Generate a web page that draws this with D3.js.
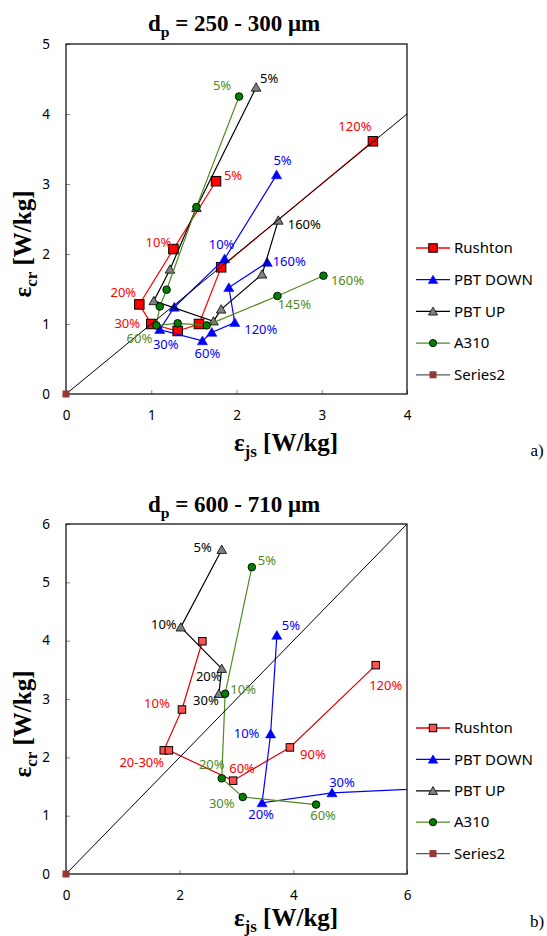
<!DOCTYPE html>
<html>
<head>
<meta charset="utf-8">
<script src="https://cdn.jsdelivr.net/npm/d3@7"></script>
<style>
  body { margin: 0; background: #fff; }
  text { font-family: "Noto Sans", "Open Sans", sans-serif; }
  .serif { font-family: "Liberation Serif", "DejaVu Serif", serif; font-weight: bold; }
</style>
</head>
<body>
<div id="chart"></div>
<script>
// ---------- data: panel a) dp = 250 - 300 um ----------
const A_X_TICKS = [0, 1, 2, 3, 4];
const A_Y_TICKS = [0, 1, 2, 3, 4, 5];

const A_RUSHTON_X = [1.76, 1.26, 0.86, 1.00, 1.31, 1.56, 1.82, 3.60];
const A_RUSHTON_Y = [3.04, 2.07, 1.28, 1.00, 0.90, 1.00, 1.81, 3.61];
const A_RUSHTON_LBL = ["5%", "10%", "20%", "30%", "", "", "", "120%"];

const A_PBTD_X = [2.47, 1.86, 1.27, 1.10, 1.60, 1.71, 1.98, 1.91, 2.36];
const A_PBTD_Y = [3.13, 1.93, 1.24, 0.92, 0.76, 0.88, 1.02, 1.52, 1.88];
const A_PBTD_LBL = ["5%", "10%", "", "30%", "60%", "", "120%", "", "160%"];

const A_PBTU_X = [2.23, 1.53, 1.22, 1.03, 1.73, 1.82, 2.30, 2.49];
const A_PBTU_Y = [4.38, 2.66, 1.78, 1.33, 1.04, 1.21, 1.71, 2.48];
const A_PBTU_LBL = ["5%", "", "", "", "", "", "", "160%"];

const A_A310_X = [2.03, 1.53, 1.18, 1.10, 1.06, 1.31, 1.65, 2.48, 3.02];
const A_A310_Y = [4.25, 2.67, 1.49, 1.25, 0.98, 1.01, 0.98, 1.40, 1.69];
const A_A310_LBL = ["5%", "", "", "", "60%", "", "", "145%", "160%"];

const A_SERIES2_X = [0];
const A_SERIES2_Y = [0];
const A_DIAG = [0, 4];

// ---------- data: panel b) dp = 600 - 710 um ----------
const B_X_TICKS = [0, 2, 4, 6];
const B_Y_TICKS = [0, 1, 2, 3, 4, 5, 6];

const B_RUSHTON_X = [2.40, 2.04, 1.72, 1.81, 2.94, 3.94, 5.45];
const B_RUSHTON_Y = [3.99, 2.82, 2.12, 2.12, 1.60, 2.17, 3.58];
const B_RUSHTON_LBL = ["", "10%", "20-30%", "", "60%", "90%", "120%"];

const B_PBTD_X = [3.71, 3.60, 3.45, 4.68, 8.0];
const B_PBTD_Y = [4.09, 2.40, 1.22, 1.39, 1.54];
const B_PBTD_LBL = ["5%", "10%", "20%", "30%", ""];

const B_PBTU_X = [2.74, 2.02, 2.74, 2.69];
const B_PBTU_Y = [5.56, 4.23, 3.52, 3.09];
const B_PBTU_LBL = ["5%", "10%", "20%", "30%"];

const B_A310_X = [3.27, 2.80, 2.74, 3.11, 4.40];
const B_A310_Y = [5.26, 3.09, 1.64, 1.32, 1.19];
const B_A310_LBL = ["5%", "10%", "20%", "30%", "60%"];

const B_SERIES2_X = [0];
const B_SERIES2_Y = [0];
const B_DIAG = [0, 6];

const SERIES_NAMES = ["Rushton", "PBT DOWN", "PBT UP", "A310", "Series2"];

// ---------- layout: label offsets in px from the point ----------
const A_RUSHTON_OFF = [[17, -6], [-15, -7], [-16, -12], [-24, -1], null, null, null, [-18, -15]];
const A_PBTD_OFF = [[6, -14], [-3, -14], null, [6, 15], [5, 13], null, [26, 7], null, [22, -1]];
const A_PBTU_OFF = [[13, -9], null, null, null, null, null, null, [26, 4]];
const A_A310_OFF = [[-17, -11], null, null, null, [-17, 13], null, null, [17, 8], [24, 5]];

const B_RUSHTON_OFF = [null, [-25, -6], [-22, 12], null, [9, -12], [23, 7], [10, 20]];
const B_PBTD_OFF = [[14, -10], [-24, -1], [-1, 12], [10, -10], null];
const B_PBTU_OFF = [[-19, -2], [-17, -3], [-13, 8], [-13, 7]];
const B_A310_OFF = [[15, -7], [18, -4], [-10, -14], [-21, 6], [7, 11]];

const WIDTH = 547, HEIGHT = 936;

const svg = d3.select("#chart")
  .append("svg")
    .attr("width", WIDTH)
    .attr("height", HEIGHT)
    .style("background", "#fff");

// text with subscript pieces: parts = [[text, isSub], ...]
function richText(g, x, y, parts, size, anchor, rotate) {
  const t = g.append("text")
    .attr("class", "serif")
    .attr("font-size", size)
    .attr("text-anchor", anchor)
    .attr("fill", "#000");
  if (rotate) {
    t.attr("transform", "translate(" + x + "," + y + ") rotate(-90)");
  } else {
    t.attr("x", x).attr("y", y);
  }
  let shifted = false;
  parts.forEach(([s, sub]) => {
    const sp = t.append("tspan").text(s);
    if (sub && !shifted) { sp.attr("dy", size * 0.24).attr("font-size", size * 0.68); shifted = true; }
    else if (!sub && shifted) { sp.attr("dy", -size * 0.24); shifted = false; }
  });
}

function drawMarker(g, type, cx, cy, st) {
  if (type === "square") {
    g.append("rect")
      .attr("x", cx - st.size / 2).attr("y", cy - st.size / 2)
      .attr("width", st.size).attr("height", st.size)
      .attr("fill", st.fill).attr("stroke", st.stroke).attr("stroke-width", st.sw);
  } else if (type === "triangle") {
    g.append("path")
      .attr("d", d3.symbol(d3.symbolTriangle, st.size)())
      .attr("transform", "translate(" + cx + "," + (cy + 1) + ")")
      .attr("fill", st.fill).attr("stroke", st.stroke).attr("stroke-width", st.sw);
  } else {
    g.append("circle")
      .attr("cx", cx).attr("cy", cy).attr("r", st.size)
      .attr("fill", st.fill).attr("stroke", st.stroke).attr("stroke-width", st.sw);
  }
}

function drawPanel(p) {
  const X_SCALE = d3.scaleLinear().domain(p.xDomain).range([66, 407]);
  const Y_SCALE = d3.scaleLinear().domain(p.yDomain).range([p.bottom, p.top]);
  const g = svg.append("g");

  // clip to plot area
  g.append("clipPath").attr("id", p.id + "-clip")
    .append("rect")
      .attr("x", 66).attr("y", p.top)
      .attr("width", 341).attr("height", p.bottom - p.top);

  // axes (inside ticks, no domain)
  const xAx = g.append("g")
    .attr("transform", "translate(0," + p.bottom + ")")
    .call(d3.axisBottom(X_SCALE).tickValues(p.xTicks).tickSize(-4).tickPadding(16).tickFormat(d3.format("d")));
  const yAx = g.append("g")
    .attr("transform", "translate(66,0)")
    .call(d3.axisLeft(Y_SCALE).tickValues(p.yTicks).tickSize(-4).tickPadding(16).tickFormat(d3.format("d")));
  [xAx, yAx].forEach(a => {
    a.select(".domain").remove();
    a.selectAll(".tick line").attr("stroke", "#8c8c8c");
    a.selectAll(".tick text").attr("font-size", 13.5).attr("fill", "#000")
      .style("font-family", "'Noto Sans', sans-serif");
  });

  // frame
  g.append("rect")
    .attr("x", 66).attr("y", p.top)
    .attr("width", 341).attr("height", p.bottom - p.top)
    .attr("fill", "none").attr("stroke", "#000").attr("stroke-width", 1.2);

  const plot = g.append("g").attr("clip-path", "url(#" + p.id + "-clip)");
  const line = d3.line().x(d => X_SCALE(d[0])).y(d => Y_SCALE(d[1]));

  p.series.forEach(s => {
    const pts = s.x.map((v, i) => [v, s.y[i]]);
    plot.append("path")
      .datum(pts)
      .attr("d", line)
      .attr("fill", "none")
      .attr("stroke", s.style.line)
      .attr("stroke-width", 1.2);
    pts.forEach(d => drawMarker(plot, s.style.type, X_SCALE(d[0]), Y_SCALE(d[1]), s.style));
  });

  // parity line y = x
  plot.append("path")
    .datum(p.diag.map(v => [v, v]))
    .attr("d", line)
    .attr("fill", "none")
    .attr("stroke", "#000")
    .attr("stroke-width", 1);

  // Series2 marker at origin
  p.s2x.forEach((v, i) => {
    g.append("rect")
      .attr("x", X_SCALE(v) - 3.5).attr("y", Y_SCALE(p.s2y[i]) - 3.5)
      .attr("width", 7).attr("height", 7)
      .attr("fill", "#953735");
  });

  // point labels
  p.series.forEach(s => {
    s.lbl.forEach((t, i) => {
      if (!t || !s.off[i]) return;
      g.append("text")
        .attr("x", X_SCALE(s.x[i]) + s.off[i][0])
        .attr("y", Y_SCALE(s.y[i]) + s.off[i][1])
        .attr("dy", "0.35em")
        .attr("text-anchor", "middle")
        .attr("font-size", 13)
        .attr("fill", s.style.text)
        .text(t);
    });
  });

  // titles
  richText(g, 234, p.titleY, p.title, 23, "middle", false);
  richText(g, 286, p.xTitleY, [["\u03b5", false], ["js", true], [" [W/kg]", false]], 25, "middle", false);
  richText(g, 31, p.yTitleC, [["\u03b5", false], ["cr", true], [" [W/kg]", false]], 25, "middle", true);
  g.append("text")
    .attr("class", "serif").style("font-weight", "normal")
    .attr("x", 537).attr("y", p.tagY)
    .attr("text-anchor", "middle").attr("font-size", 17)
    .text(p.tag);

  // legend
  const styles = p.series.map(s => s.style).concat([p.s2Style]);
  SERIES_NAMES.forEach((name, i) => {
    const ly = p.legY + i * p.legStep;
    const st = styles[i];
    g.append("line")
      .attr("x1", 416).attr("x2", 450).attr("y1", ly).attr("y2", ly)
      .attr("stroke", st.line).attr("stroke-width", 1.3);
    drawMarker(g, st.type, 433, ly, Object.assign({}, st, { size: st.legSize }));
    g.append("text")
      .attr("x", 454).attr("y", ly).attr("dy", "0.35em")
      .attr("font-size", 15).attr("fill", "#000")
      .text(name);
  });
}

const GREEN_LINE = "#4f8a1e";

drawPanel({
  id: "pa", xDomain: [0, 4], yDomain: [0, 5], top: 44, bottom: 394,
  xTicks: A_X_TICKS, yTicks: A_Y_TICKS, diag: A_DIAG, s2x: A_SERIES2_X, s2y: A_SERIES2_Y,
  title: [["d", false], ["p", true], [" = 250 - 300 \u03bcm", false]],
  titleY: 31, xTitleY: 451, yTitleC: 244, tag: "a)", tagY: 456,
  legY: 248, legStep: 31.7,
  series: [
    { x: A_RUSHTON_X, y: A_RUSHTON_Y, lbl: A_RUSHTON_LBL, off: A_RUSHTON_OFF,
      style: { type: "square", line: "#ff0000", fill: "#ff0000", stroke: "#000", sw: 1, size: 9.5, legSize: 8.5, text: "#ff0000" } },
    { x: A_PBTD_X, y: A_PBTD_Y, lbl: A_PBTD_LBL, off: A_PBTD_OFF,
      style: { type: "triangle", line: "#0000ff", fill: "#0000ff", stroke: "#0000ff", sw: 0.5, size: 45, legSize: 40, text: "#0000ff" } },
    { x: A_PBTU_X, y: A_PBTU_Y, lbl: A_PBTU_LBL, off: A_PBTU_OFF,
      style: { type: "triangle", line: "#000", fill: "#808080", stroke: "#000", sw: 0.8, size: 40, legSize: 36, text: "#000" } },
    { x: A_A310_X, y: A_A310_Y, lbl: A_A310_LBL, off: A_A310_OFF,
      style: { type: "circle", line: GREEN_LINE, fill: "#008000", stroke: "#000", sw: 0.9, size: 3.8, legSize: 3.6, text: GREEN_LINE } }
  ],
  s2Style: { type: "square", line: "#595959", fill: "#953735", stroke: "none", sw: 0, size: 7, legSize: 7 }
});

drawPanel({
  id: "pb", xDomain: [0, 6], yDomain: [0, 6], top: 524, bottom: 874,
  xTicks: B_X_TICKS, yTicks: B_Y_TICKS, diag: B_DIAG, s2x: B_SERIES2_X, s2y: B_SERIES2_Y,
  title: [["d", false], ["p", true], [" = 600 - 710 \u03bcm", false]],
  titleY: 512, xTitleY: 926, yTitleC: 724, tag: "b)", tagY: 927,
  legY: 728, legStep: 31.4,
  series: [
    { x: B_RUSHTON_X, y: B_RUSHTON_Y, lbl: B_RUSHTON_LBL, off: B_RUSHTON_OFF,
      style: { type: "square", line: "#e00000", fill: "#ff5050", stroke: "#000", sw: 1, size: 7.5, legSize: 7.5, text: "#ff0000" } },
    { x: B_PBTD_X, y: B_PBTD_Y, lbl: B_PBTD_LBL, off: B_PBTD_OFF,
      style: { type: "triangle", line: "#0000ff", fill: "#0000ff", stroke: "#0000ff", sw: 0.5, size: 45, legSize: 40, text: "#0000ff" } },
    { x: B_PBTU_X, y: B_PBTU_Y, lbl: B_PBTU_LBL, off: B_PBTU_OFF,
      style: { type: "triangle", line: "#000", fill: "#808080", stroke: "#000", sw: 0.8, size: 40, legSize: 36, text: "#000" } },
    { x: B_A310_X, y: B_A310_Y, lbl: B_A310_LBL, off: B_A310_OFF,
      style: { type: "circle", line: GREEN_LINE, fill: "#008000", stroke: "#000", sw: 0.9, size: 3.8, legSize: 3.6, text: GREEN_LINE } }
  ],
  s2Style: { type: "square", line: "#595959", fill: "#953735", stroke: "none", sw: 0, size: 7, legSize: 7 }
});
</script>
</body>
</html>
